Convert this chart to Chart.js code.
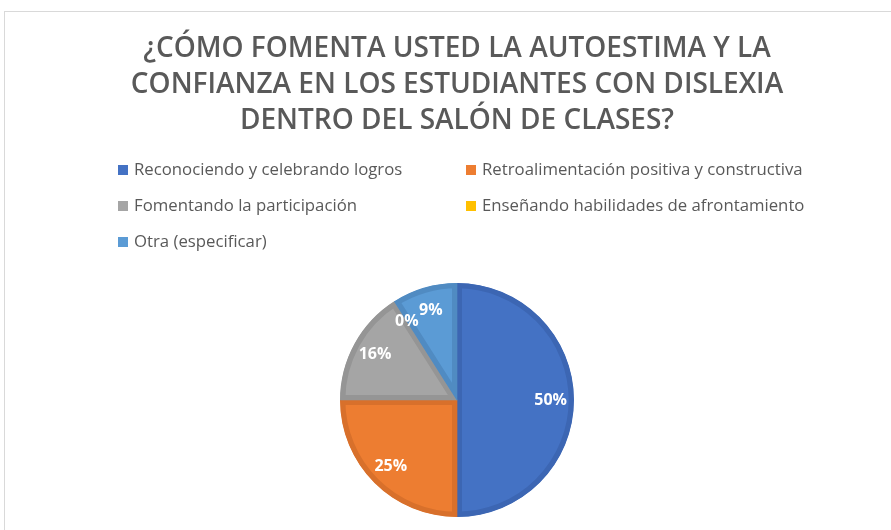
<!DOCTYPE html>
<html>
<head>
<meta charset="utf-8">
<script src="https://cdn.jsdelivr.net/npm/chart.js@4/dist/chart.umd.min.js"></script>
<style>
    html, body { margin: 0; padding: 0; background: #fff; overflow: hidden; }
    #frame { position: absolute; left: 4px; top: 11px; width: 1000px; height: 1000px; border: 1px solid #d9d9d9; }
    #wrap { position: absolute; left: 0; top: 0; width: 891px; height: 530px; }
</style>
</head>
<body>
<div id="frame"></div>
<div id="wrap"><canvas id="pieChart" width="891" height="530"></canvas></div>
<script>
// Chart data
const titleLines = [
    "¿CÓMO FOMENTA USTED LA AUTOESTIMA Y LA",
    "CONFIANZA EN LOS ESTUDIANTES CON DISLEXIA",
    "DENTRO DEL SALÓN DE CLASES?"
];
const categories = [
    "Reconociendo y celebrando logros",
    "Retroalimentación positiva y constructiva",
    "Fomentando la participación",
    "Enseñando habilidades de afrontamiento",
    "Otra (especificar)"
];
const percentages = [50, 25, 16, 0, 9];
const fillColors = ["#4472C4", "#ED7D31", "#A5A5A5", "#FFC000", "#5B9BD5"];
const edgeColors = ["#3C66B3", "#D8702B", "#959595", "#E6AD00", "#508BC2"];

// Percent labels inside the slices
const sliceLabels = {
    id: "sliceLabels",
    afterDatasetsDraw(chart) {
        let ctx = chart.ctx;
        let meta = chart.getDatasetMeta(0);
        ctx.save();
        ctx.font = "bold 16px 'Open Sans'";
        ctx.fillStyle = "#ffffff";
        ctx.textAlign = "center";
        ctx.textBaseline = "middle";
        meta.data.forEach((arc, i) => {
            let p = arc.getProps(["x", "y", "startAngle", "endAngle", "outerRadius"], true);
            let mid = (p.startAngle + p.endAngle) / 2;
            let d = p.outerRadius * 0.8;
            ctx.fillText(percentages[i] + "%", p.x + Math.cos(mid) * d, p.y + Math.sin(mid) * d);
        });
        ctx.restore();
    }
};

// Two-column legend under the title
const gridLegend = {
    id: "gridLegend",
    afterDraw(chart) {
        let ctx = chart.ctx;
        let colX = [118, 466];
        let rowY = 170, rowGap = 36;
        ctx.save();
        ctx.font = "16.75px 'Open Sans'";
        ctx.textBaseline = "middle";
        ctx.textAlign = "left";
        chart.data.labels.forEach((label, i) => {
            let x = colX[i % 2];
            let y = rowY + Math.floor(i / 2) * rowGap;
            ctx.fillStyle = fillColors[i];
            ctx.fillRect(x, y - 5, 10, 10);
            ctx.fillStyle = "#595959";
            ctx.fillText(label, x + 16, y);
        });
        ctx.restore();
    }
};

let ctx = document.getElementById("pieChart").getContext("2d");
new Chart(ctx, {
    type: "pie",
    data: {
        labels: categories,
        datasets: [{
            data: percentages,
            backgroundColor: fillColors,
            borderColor: edgeColors,
            borderWidth: 5,
            borderAlign: "inner"
        }]
    },
    options: {
        responsive: false,
        animation: false,
        layout: { padding: { left: 23, right: 0, top: 0, bottom: 13 } },
        plugins: {
            legend: { display: false },
            tooltip: { enabled: false },
            title: {
                display: true,
                text: titleLines,
                color: "#595959",
                font: { family: "'Open Sans'", size: 28, weight: "600", lineHeight: 1.286 },
                padding: { top: 31, bottom: 144 }
            }
        }
    },
    plugins: [sliceLabels, gridLegend]
});
</script>
</body>
</html>
